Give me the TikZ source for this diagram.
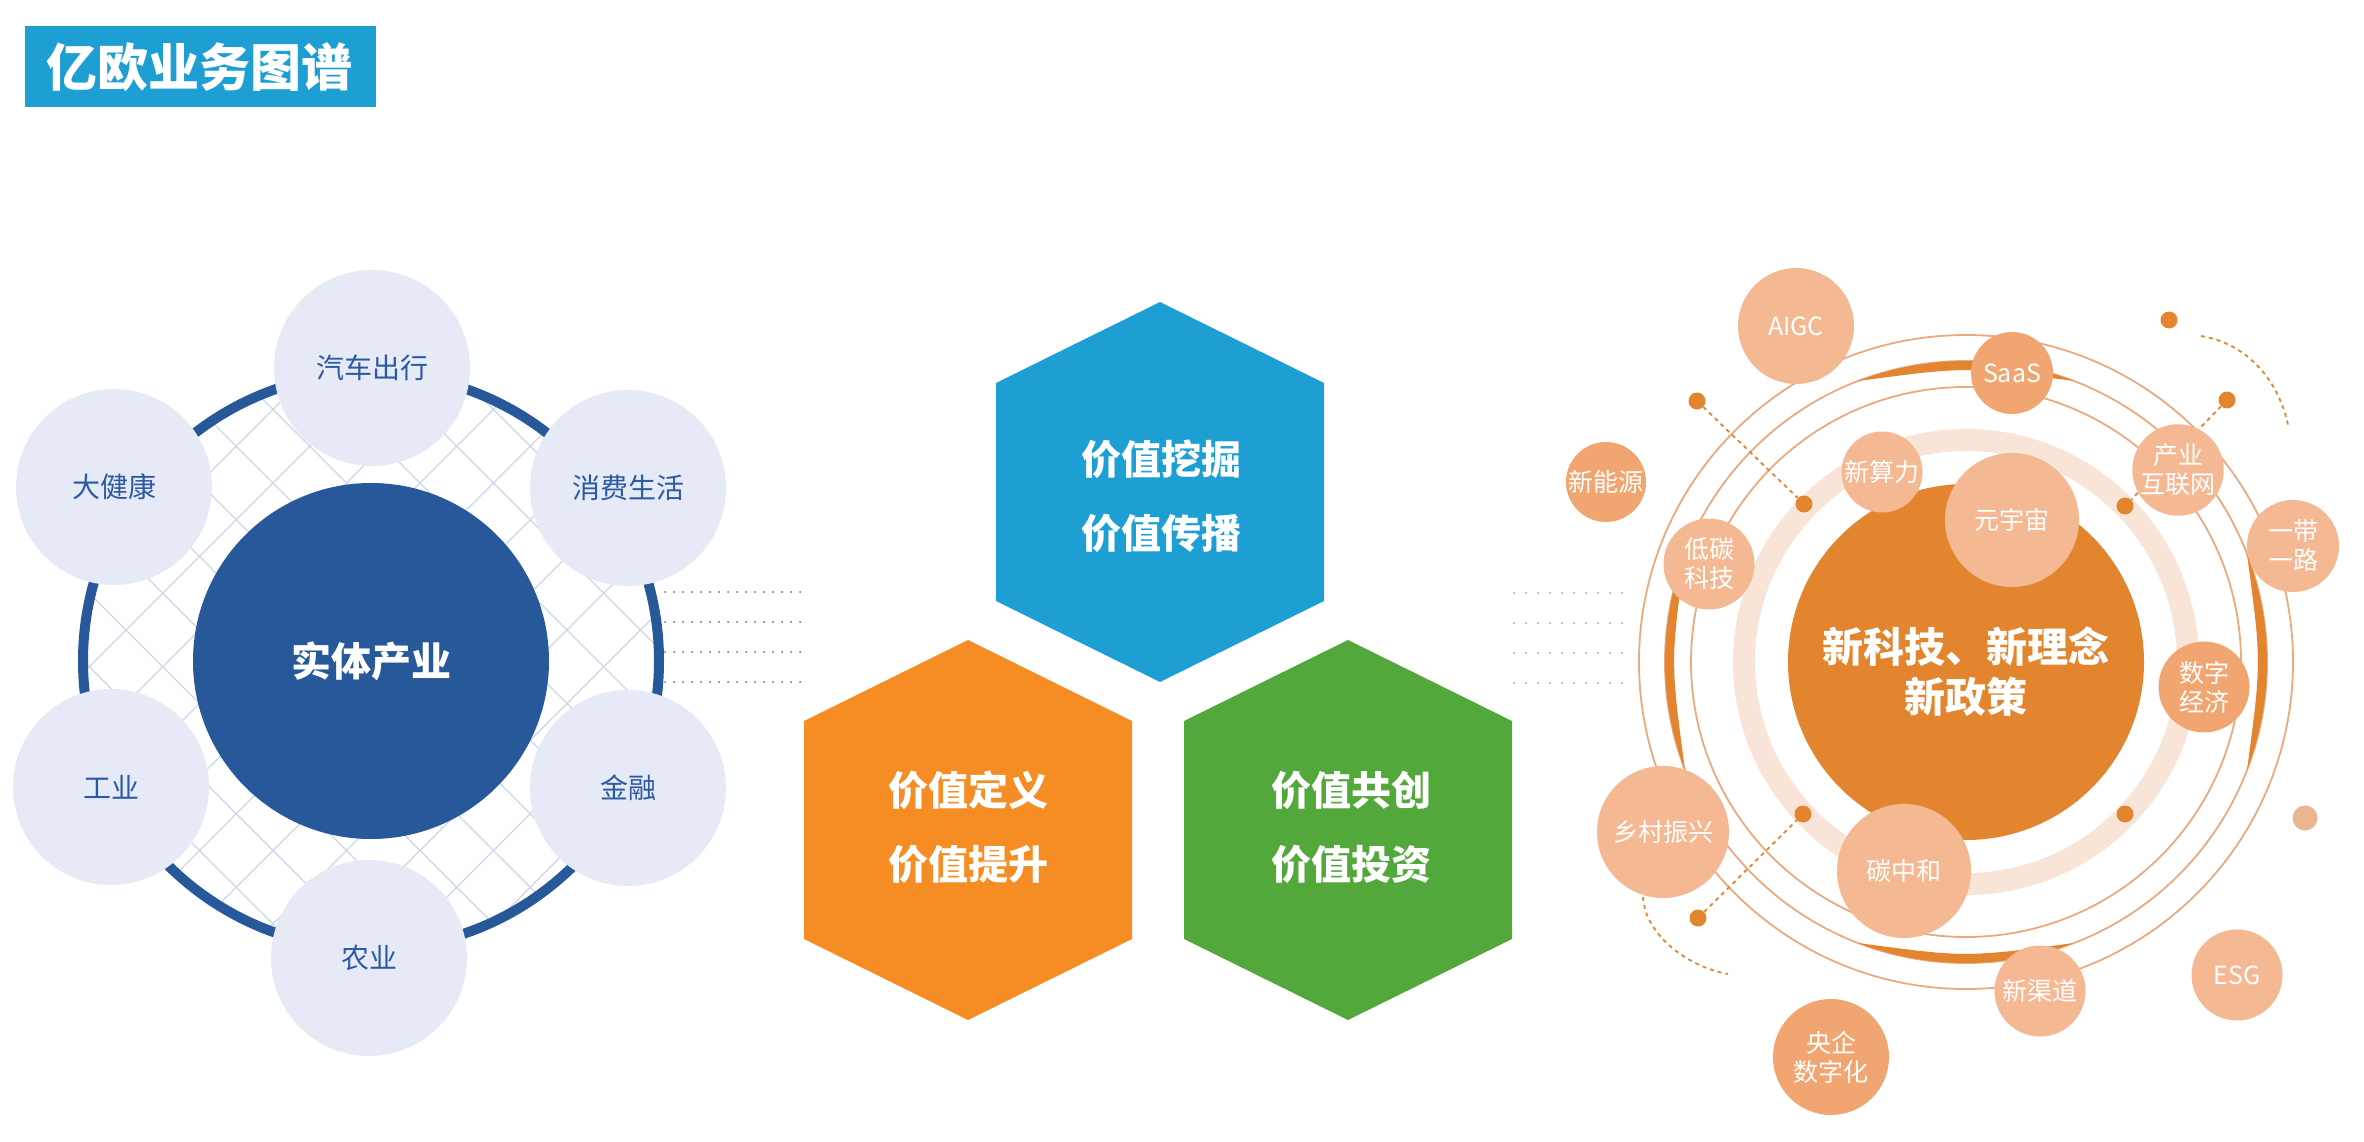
\documentclass[tikz,border=0pt]{standalone}
\usepackage{fontspec}
\setmainfont{Noto Sans CJK SC}
\usetikzlibrary{calc}
\newcommand\myfs[2]{\fontsize{#1}{#2}\selectfont}
\definecolor{titleblue}{HTML}{1E9FD4}
\definecolor{navy}{HTML}{26589A}
\definecolor{lav}{HTML}{E6EAF6}
\definecolor{lavtext}{HTML}{2B5AA5}
\definecolor{hatchc}{HTML}{CDD6E8}
\definecolor{hexblue}{HTML}{1E9FD4}
\definecolor{hexorange}{HTML}{F58D24}
\definecolor{hexgreen}{HTML}{52A83A}
\definecolor{ocore}{HTML}{E3852F}
\definecolor{oband}{HTML}{F8E5D7}
\definecolor{oline}{HTML}{E9AA80}
\definecolor{olight}{HTML}{F4B893}
\definecolor{odark}{HTML}{F1A671}
\definecolor{opale}{HTML}{EBB592}
\definecolor{bluedot}{HTML}{4A6FA8}
\definecolor{graydot}{HTML}{A8A8A8}
\begin{document}
\begin{tikzpicture}[x=1pt,y=-1pt,
  lsat/.style={circle, fill=lav, minimum size=196pt, inner sep=0pt, text=lavtext, font=\myfs{28}{34}},
  rsat/.style={circle, fill=olight, minimum size=#1, inner sep=0pt, text=white, align=center, font=\myfs{25}{29}},
  rsatd/.style={rsat=#1, fill=odark},
  odot/.style={circle, fill=ocore, minimum size=17pt, inner sep=0pt},
  hextext/.style={text=white, align=center, font=\myfs{40}{74}\bfseries},
  thinring/.style={draw=oline, line width=1.8pt},
  odash/.style={draw=ocore, line width=1.8pt, dash pattern=on 4pt off 4pt},
  bdots/.style={draw=bluedot, line width=2pt, line cap=round, dash pattern=on 0pt off 9pt},
  gdots/.style={draw=graydot, line width=2pt, line cap=round, dash pattern=on 0pt off 12pt},
  hatch/.style={draw=hatchc, line width=1.3pt}]
\useasboundingbox (0,0) rectangle (2364,1142);
\fill[white] (0,0) rectangle (2364,1142);

% title
\fill[titleblue] (25,26) rectangle (376,107);
\node[text=white, font=\myfs{51}{60}\bfseries] (title) at (199,67) {亿欧业务图谱};

% ---------- left ----------
\coordinate (L) at (371,661);
\begin{scope}
  \clip (L) circle[radius=284];
  \foreach \k in {-6,...,13} {\draw[hatch] ({756+73.5*(\k)-300},300) -- ({756+73.5*(\k)-1000},1000);}
  \foreach \k in {-10,...,8} {\draw[hatch] ({-210+73.5*(\k)+300},300) -- ({-210+73.5*(\k)+1000},1000);}
\end{scope}
\draw[draw=navy, line width=10pt] (L) circle[radius=288];
\node[circle, fill=navy, minimum size=356pt, inner sep=0pt, text=white, font=\myfs{40}{48}\bfseries] (core) at (L) {实体产业};
\node[lsat] (car) at (372,368) {汽车出行};
\node[lsat] (cons) at (628,488) {消费生活};
\node[lsat] (health) at (114,487) {大健康};
\node[lsat] (ind) at (111,787) {工业};
\node[lsat] (fin) at (628,788) {金融};
\node[lsat] (agri) at (369,958) {农业};
\foreach \y in {592,622,652,682} {\draw[bdots] (665,\y) -- (803,\y);}

% ---------- hexagons ----------
\fill[hexblue] (1160,302) -- ++(164,81) -- ++(0,218) -- ++(-164,81) -- ++(-164,-81) -- ++(0,-218) -- cycle;
\node[hextext] (hb) at (1161,496) {价值挖掘\\价值传播};
\fill[hexorange] (968,640) -- ++(164,81) -- ++(0,218) -- ++(-164,81) -- ++(-164,-81) -- ++(0,-218) -- cycle;
\node[hextext] (ho) at (968,827) {价值定义\\价值提升};
\fill[hexgreen] (1348,640) -- ++(164,81) -- ++(0,218) -- ++(-164,81) -- ++(-164,-81) -- ++(0,-218) -- cycle;
\node[hextext] (hg) at (1351,827) {价值共创\\价值投资};

% ---------- right ----------
\coordinate (R) at (1966,662);
\foreach \y in {593,623,653,683} {\draw[gdots] (1514,\y) -- (1631,\y);}
\foreach \r in {275,301,327} {\draw[thinring] (R) circle[radius=\r];}
\foreach \a in {0,90,180,270} {
  \fill[ocore] ($(R)+({\a-21}:301)$) arc[start angle=\a-21, end angle=\a+21, radius=301]
     .. controls ($(R)+(\a:{295.5})$) .. ($(R)+({\a-21}:301)$) -- cycle;
}
\draw[draw=oband, line width=22pt] (R) circle[radius=222];

% dots and dotted connectors
\node[odot] (d1) at (1697,401) {};
\node[odot] (d2) at (1804,504) {};
\node[odot] (d3) at (2125,506) {};
\node[odot] (d4) at (2227,400) {};
\node[odot] (d5) at (2169,320) {};
\node[odot] (d6) at (1803,814) {};
\node[odot] (d7) at (2125,814) {};
\node[odot] (d8) at (1698,918) {};
\node[circle, fill=opale, minimum size=25pt, inner sep=0pt] (d9) at (2305,818) {};
\draw[odash] (d1) -- (d2);
\draw[odash] (d4) -- (d3);
\draw[odash] (d8) -- (d6);
\coordinate (a1s) at (2201,336);
\coordinate (a1e) at (2288,425);
\draw[odash] (a1s) .. controls (2245,343) and (2278,378) .. (a1e);
\coordinate (a2s) at (1643,897);
\coordinate (a2e) at (1728,974);
\draw[odash] (a2s) .. controls (1645,935) and (1688,967) .. (a2e);

% core
\node[circle, fill=ocore, minimum size=356pt, inner sep=0pt] (rcore) at (R) {};
\node[text=white, align=center, font=\myfs{41}{50}\bfseries] (rcoretext) at (1966,672) {新科技、新理念\\新政策};

% satellites
\node[rsat=116pt] (aigc) at (1796,326) {AIGC};
\node[rsatd=82pt] (saas) at (2012,373) {SaaS};
\node[rsatd=80pt] (nenergy) at (1606,482) {新能源};
\node[rsat=81pt] (compute) at (1882,472) {新算力};
\node[rsat=134pt] (meta) at (2012,520) {元宇宙};
\node[rsat=91pt] (iinet) at (2178,470) {产业\\互联网};
\node[rsat=92pt] (belt) at (2293,546) {一带\\一路};
\node[rsat=91pt] (lowc) at (1709,564) {低碳\\科技};
\node[rsatd=91pt] (digeco) at (2204,687) {数字\\经济};
\node[rsat=132pt] (rural) at (1663,832) {乡村振兴};
\node[rsat=134pt] (neutral) at (1904,871) {碳中和};
\node[rsat=91pt] (channel) at (2040,991) {新渠道};
\node[rsat=91pt] (esg) at (2237,975) {ESG};
\node[rsatd=116pt] (soe) at (1831,1057) {央企\\数字化};
\end{tikzpicture}
\end{document}
